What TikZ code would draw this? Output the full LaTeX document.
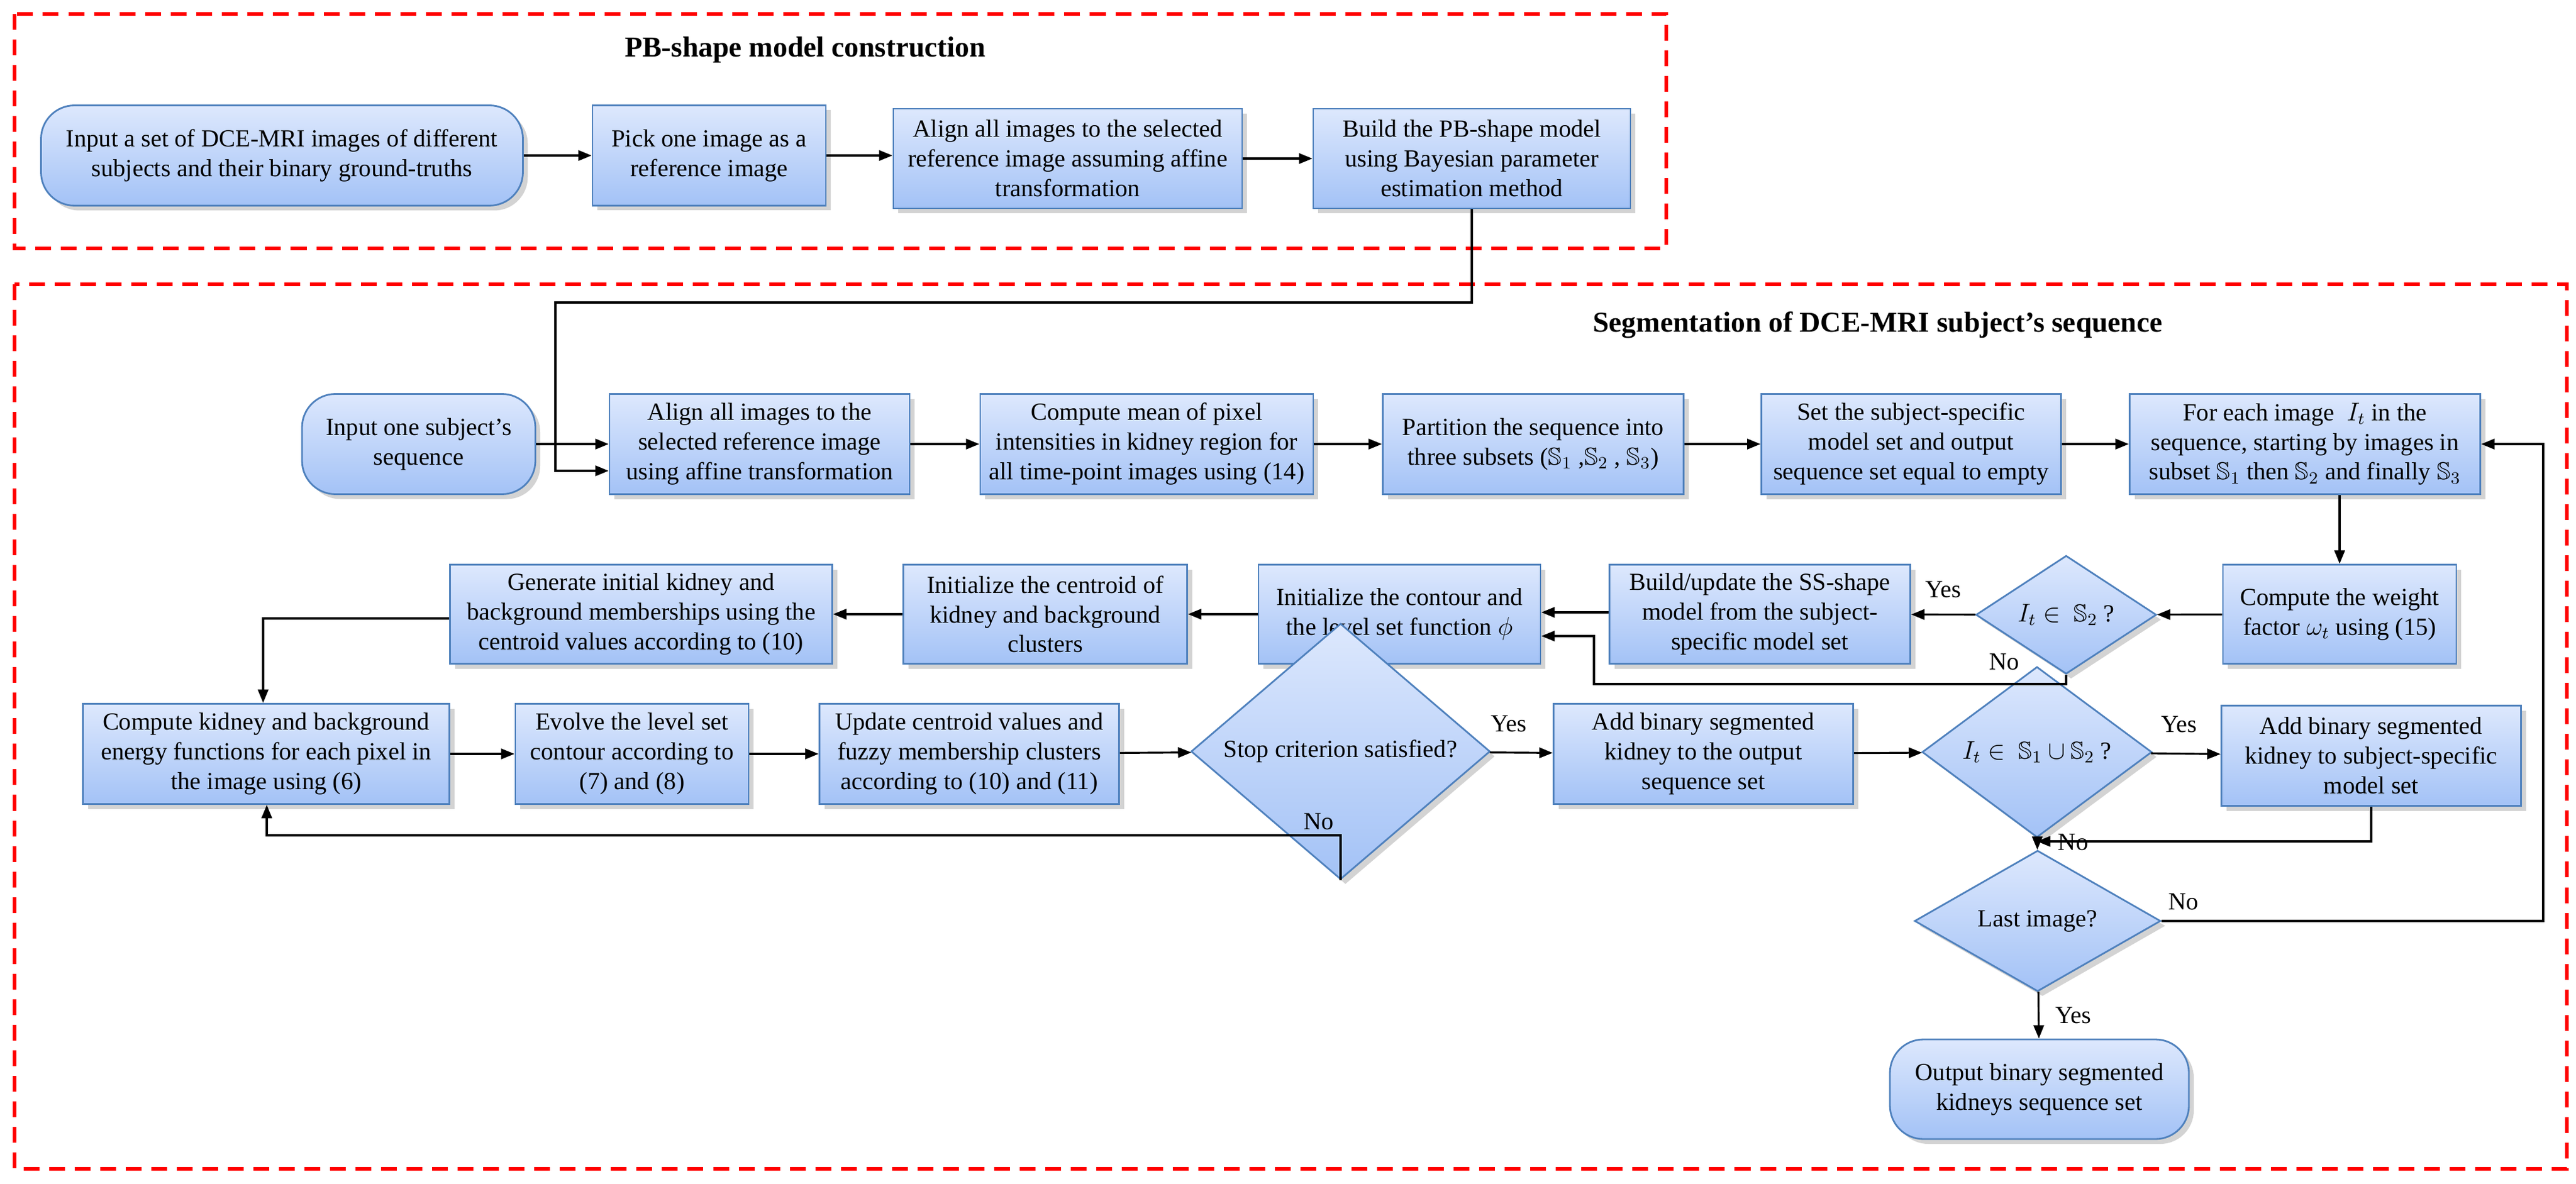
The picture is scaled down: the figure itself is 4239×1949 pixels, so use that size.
\documentclass[tikz,border=0pt]{standalone}
\usepackage{amsmath,amssymb}
\usepackage{fontspec}
\setmainfont{Liberation Serif}
\usetikzlibrary{shapes.geometric,arrows.meta,shadows}
\definecolor{boxtop}{HTML}{DDE8FD}
\definecolor{boxbot}{HTML}{A3C2F6}
\definecolor{boxline}{HTML}{4F81BD}
\tikzset{
  wh/.style 2 args={minimum width=#1*0.01cm, minimum height=#2*0.01cm},
  base/.style={draw=boxline, line width=0.8pt, top color=boxtop, bottom color=boxbot,
    align=center, font=\fontsize{11.5}{13.9}\selectfont, inner sep=2pt,
    drop shadow={opacity=0.35, shadow xshift=0.08cm, shadow yshift=-0.08cm}},
  box/.style={base, rectangle},
  term/.style={base, rectangle, rounded corners=0.55cm},
  dec/.style={base, diamond, inner sep=0pt},
  arr/.style={line width=0.9pt, -{Triangle[length=0.22cm,width=0.17cm]}},
  frame/.style={red, line width=1.8pt, dash pattern=on 0.26cm off 0.16cm},
  lbl/.style={font=\fontsize{11.5}{13.9}\selectfont},
  ttl/.style={font=\fontsize{13.5}{16}\selectfont\bfseries}
}
\begin{document}
\begin{tikzpicture}[x=0.01cm,y=-0.01cm]
\useasboundingbox (0,0) rectangle (4239,1949);
% frames
\draw[frame] (24,23) rectangle (2742,409);
\draw[frame] (24,468) rectangle (4224,1924);
\node[ttl] (t1) at (1325,82) {PB-shape model construction};
\node[ttl] (t2) at (3090,535) {Segmentation of DCE-MRI subject's sequence};
% PB-shape model
\node[term,wh={793}{165}] (in1) at (464,256) {Input a set of DCE-MRI images of different\\subjects and their binary ground-truths};
\node[box,wh={384}{165}] (pick) at (1167,256) {Pick one image as a\\reference image};
\node[box,wh={574}{164}] (al1) at (1757,261) {Align all images to the selected\\reference image assuming affine\\transformation};
\node[box,wh={522}{164}] (bld) at (2422,261) {Build the PB-shape model\\using Bayesian parameter\\estimation method};
% segmentation, row 1
\node[term,wh={384}{165}] (in2) at (689,731) {Input one subject's\\sequence};
\node[box,wh={494}{165}] (al2) at (1250,731) {Align all images to the\\selected reference image\\using affine transformation};
\node[box,wh={548}{165}] (mean) at (1887,731) {Compute mean of pixel\\intensities in kidney region for\\all time-point images using (14)};
\node[box,wh={495}{165}] (part) at (2523,731) {Partition the sequence into\\three subsets ($\mathbb{S}_1$ ,$\mathbb{S}_2$ , $\mathbb{S}_3$)};
\node[box,wh={493}{165}] (set) at (3145,731) {Set the subject-specific\\model set and output\\sequence set equal to empty};
\node[box,wh={577}{165}] (each) at (3793,731) {For each image \ $I_t$ in the\\sequence, starting by images in\\subset $\mathbb{S}_1$ then $\mathbb{S}_2$ and finally $\mathbb{S}_3$};
% row 2
\node[box,wh={384}{163}] (wgt) at (3850,1011) {Compute the weight\\factor $\omega_t$ using (15)};
\node[dec,wh={297}{163}] (ds2) at (3400,1012) {$I_t \in\ \mathbb{S}_2$ ?};
\node[box,wh={495}{163}] (ssm) at (2896,1011) {Build/update the SS-shape\\model from the subject-\\specific model set};
\node[box,wh={464}{163}] (cont) at (2303,1011) {Initialize the contour and\\the level set function $\phi$};
\node[box,wh={467}{163}] (cent) at (1720,1011) {Initialize the centroid of\\kidney and background\\clusters};
\node[box,wh={629}{163}] (gen) at (1055,1011) {Generate initial kidney and\\background memberships using the\\centroid values according to (10)};
% row 3
\node[box,wh={603}{165}] (ck) at (438,1241) {Compute kidney and background\\energy functions for each pixel in\\the image using (6)};
\node[box,wh={384}{165}] (evo) at (1040,1241) {Evolve the level set\\contour according to\\(7) and (8)};
\node[box,wh={493}{165}] (upd) at (1595,1241) {Update centroid values and\\fuzzy membership clusters\\according to (10) and (11)};
\node[dec,wh={492}{191}] (stop) at (2206,1237) {Stop criterion satisfied?};
\node[box,wh={493}{165}] (addo) at (2803,1241) {Add binary segmented\\kidney to the output\\sequence set};
\node[dec,wh={378}{164}] (ds12) at (3352,1238) {$I_t \in\ \mathbb{S}_1\cup\mathbb{S}_2$ ?};
\node[box,wh={493}{165}] (addm) at (3902,1244) {Add binary segmented\\kidney to subject-specific\\model set};
\node[dec,wh={405}{164}] (last) at (3353,1516) {Last image?};
\node[term,wh={492}{164}] (out) at (3356,1793) {Output binary segmented\\kidneys sequence set};
\coordinate (mrg) at (3352,1385);
% connectors
\draw[arr] (in1) -- (pick);
\draw[arr] (pick) -- (al1.west |- pick);
\draw[arr] (al1) -- (bld);
\draw[arr] (bld.south) |- (914,498) |- ([yshift=-0.44cm]al2.west);
\draw[arr] (in2) -- (al2);
\draw[arr] (al2) -- (mean);
\draw[arr] (mean) -- (part);
\draw[arr] (part) -- (set);
\draw[arr] (set) -- (each);
\draw[arr] (each.south -| wgt) -- (wgt);
\draw[arr] (wgt) -- (ds2);
\draw[arr] (ds2) -- node[lbl,above=4pt] {Yes} (ssm);
\draw[arr] (ds2.south) |- (2623,1126) |- ([yshift=-0.36cm]cont.east);
\node[lbl] (no1) at (3298,1089) {No};
\draw[arr] (ssm.west |- 0,1008) -- (cont.east |- 0,1008);
\draw[arr] (cont) -- (cent);
\draw[arr] (cent) -- (gen);
\draw[arr] (gen.west |- 0,1018) -| (ck.north -| 433,0);
\draw[arr] (ck) -- (evo);
\draw[arr] (evo) -- (upd);
\draw[arr] (upd) -- (stop);
\draw[arr] (stop) -- node[lbl,above=6pt,pos=0.3] {Yes} (addo);
\draw[arr] (stop.south) |- (439,1375) -- (ck.south -| 439,0);
\node[lbl] (no2) at (2170,1352) {No};
\draw[arr] (addo) -- (ds12);
\draw[arr] (ds12) -- node[lbl,above=6pt,pos=0.4] {Yes} (addm);
\draw[arr] (ds12) -- node[lbl,right=6pt,pos=0.35] {No} (last);
\draw[arr] (addm.south) |- (mrg);
\draw[arr] (last.east) -| (4185,731) -- (each.east);
\node[lbl] (no3) at (3593,1484) {No};
\draw[arr] (last) -- node[lbl,right=4pt] {Yes} (out);
\end{tikzpicture}
\end{document}
